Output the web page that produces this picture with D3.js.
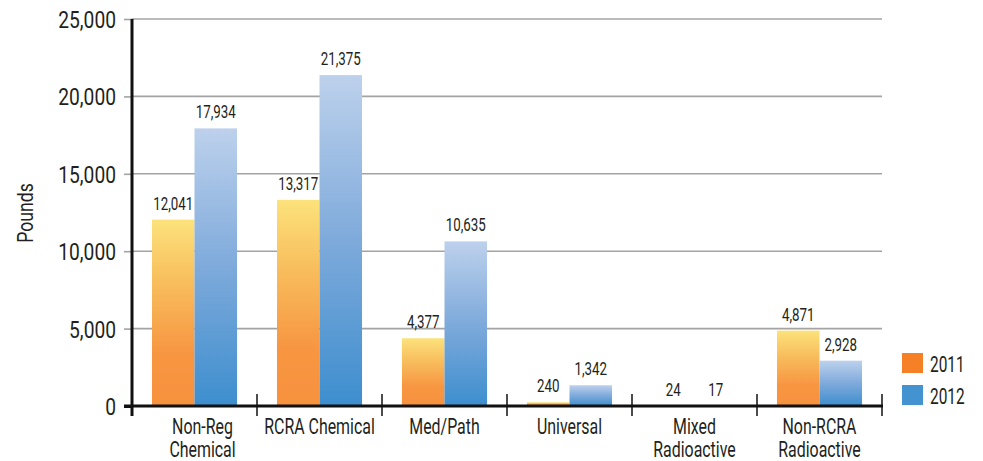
<!DOCTYPE html>
<html><head><meta charset="utf-8">
<script src="https://cdn.jsdelivr.net/npm/d3@7"></script>
<style>
html,body{margin:0;padding:0;background:#fff;}
svg text{font-family:Roboto,"Liberation Sans",sans-serif;font-weight:400;fill:#231f20;}
</style></head>
<body>
<svg id="chart" width="983" height="461"></svg>
<script>
const categories = [["Non-Reg","Chemical"],["RCRA Chemical"],["Med/Path"],["Universal"],["Mixed","Radioactive"],["Non-RCRA","Radioactive"]];
const series = ["2011","2012"];
const values2011 = [12041, 13317, 4377, 240, 24, 4871];
const values2012 = [17934, 21375, 10635, 1342, 17, 2928];
const yTicks = [0, 5000, 10000, 15000, 20000, 25000];
const legendColors = ["#F58025", "#4393D1"];

const svg = d3.select("#chart");
const pLeft = 132, pRight = 882, pTop = 19, pBottom = 406;
const catKeys = categories.map((c,i)=>i);
const x = d3.scaleBand().domain(catKeys).range([pLeft,pRight]).paddingInner(0).paddingOuter(0);
const x1 = d3.scaleBand().domain(series).range([0, x.bandwidth()]).paddingOuter(0.47).paddingInner(0);
const y = d3.scaleLinear().domain([0,25000]).range([pBottom, pTop]);

function condense(sel, f){
  sel.each(function(){
    const L = this.getComputedTextLength();
    if (L>0) d3.select(this).attr("textLength", L*f).attr("lengthAdjust","spacingAndGlyphs");
  });
}

const defs = svg.append("defs");
const g1 = defs.append("linearGradient").attr("id","grad2011").attr("x1",0).attr("y1",0).attr("x2",0).attr("y2",1);
g1.append("stop").attr("offset","0%").attr("stop-color","#FCE27B");
g1.append("stop").attr("offset","35%").attr("stop-color","#F8BC5C");
g1.append("stop").attr("offset","72%").attr("stop-color","#F79642");
g1.append("stop").attr("offset","100%").attr("stop-color","#F7923F");
const g2 = defs.append("linearGradient").attr("id","grad2012").attr("x1",0).attr("y1",0).attr("x2",0).attr("y2",1);
g2.append("stop").attr("offset","0%").attr("stop-color","#BDD1EC");
g2.append("stop").attr("offset","50%").attr("stop-color","#7EAADB");
g2.append("stop").attr("offset","100%").attr("stop-color","#3D8ECE");

// gridlines
svg.append("g").selectAll("line").data(yTicks.filter(d=>d>0)).join("line")
  .attr("x1",pLeft).attr("x2",pRight).attr("y1",d=>y(d)).attr("y2",d=>y(d))
  .attr("stroke","#a3a3a3").attr("stroke-width",1.6);

// y axis
const yAxis = d3.axisLeft(y).tickValues(yTicks).tickFormat(d3.format(",")).tickSize(8).tickPadding(8);
const ya = svg.append("g").attr("transform",`translate(${pLeft},0)`).call(yAxis);
ya.select(".domain").remove();
ya.selectAll(".tick line").attr("stroke",d=>d===0?"#111":"#a3a3a3").attr("stroke-width",d=>d===0?3:1.6);
ya.selectAll(".tick text").attr("font-size",24).attr("fill","#231f20").attr("dy","0.35em")
  .attr("font-family","Roboto").attr("font-weight",400);
condense(ya.selectAll(".tick text"), 0.8);

// bars
const data = [values2011, values2012];
const grp = svg.append("g").selectAll("g").data(catKeys).join("g").attr("transform",d=>`translate(${x(d)},0)`);
grp.selectAll("rect").data(i=>series.map((s,k)=>({s,k,v:data[k][i]}))).join("rect")
  .attr("x",d=>x1(d.s)).attr("width",x1.bandwidth())
  .attr("y",d=>y(d.v)).attr("height",d=>pBottom-y(d.v))
  .attr("fill",d=>`url(#grad${d.s})`);
const vals = grp.selectAll("text.val").data(i=>series.map((s,k)=>({s,k,v:data[k][i]}))).join("text").attr("class","val")
  .attr("x",d=>x1(d.s)+x1.bandwidth()/2).attr("y",d=>y(d.v)-10)
  .attr("text-anchor","middle").attr("font-size",18).attr("font-weight",300).text(d=>d3.format(",")(d.v));
condense(vals, 0.74);

// x axis
svg.append("line").attr("x1",pLeft-8).attr("x2",pRight+1).attr("y1",pBottom).attr("y2",pBottom).attr("stroke","#111").attr("stroke-width",3);
svg.append("line").attr("x1",pLeft).attr("x2",pLeft).attr("y1",pTop).attr("y2",pBottom+10).attr("stroke","#111").attr("stroke-width",3);
svg.append("g").selectAll("line").data(catKeys.map(i=>x(i)+x.bandwidth())).join("line")
  .attr("x1",d=>d).attr("x2",d=>d).attr("y1",pBottom-12).attr("y2",pBottom+10).attr("stroke","#111").attr("stroke-width",1.5);

// category labels
const catLines = [];
categories.forEach((c,i)=>c.forEach((t,j)=>catLines.push({i,j,t})));
const cl = svg.append("g").selectAll("text").data(catLines).join("text")
  .attr("x",d=>x(d.i)+x.bandwidth()/2 + (d.i===0?8:0)).attr("y",d=>434+d.j*23)
  .attr("text-anchor","middle").attr("font-size",21.5).text(d=>d.t);
condense(cl, 0.74);

// y title
const yt = svg.append("text").attr("transform","translate(33,213) rotate(-90)").attr("text-anchor","middle").attr("font-size",22).text("Pounds");
condense(yt, 0.8);

// legend
const lg = svg.append("g").selectAll("g").data(series).join("g").attr("transform",(d,i)=>`translate(902,${353+i*32})`);
lg.append("rect").attr("width",21).attr("height",20).attr("fill",(d,i)=>legendColors[i]);
const lt = lg.append("text").attr("x",28).attr("y",19).attr("font-size",22).text(d=>d);
condense(lt, 0.7);
</script>
</body></html>
